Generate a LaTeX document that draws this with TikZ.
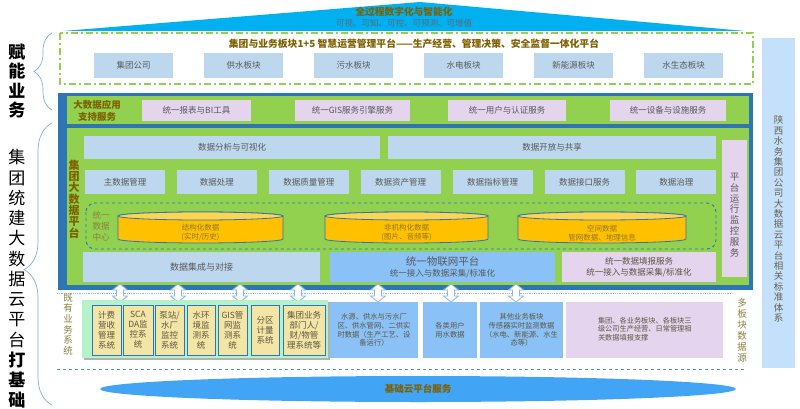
\documentclass[tikz,border=0pt]{standalone}
\usepackage{fontspec}
\setmainfont{Noto Sans CJK SC}
\usetikzlibrary{decorations.pathreplacing}
\definecolor{triblue}{HTML}{00B0F0}
\definecolor{gold}{HTML}{7F6000}
\definecolor{gtext}{HTML}{595959}
\definecolor{subt}{HTML}{5A6A7A}
\definecolor{lblue}{HTML}{BDD7EE}
\definecolor{pinkb}{HTML}{E4D4EE}
\definecolor{gr}{HTML}{92D050}
\definecolor{fblue}{HTML}{2E75B6}
\definecolor{iot}{HTML}{8AC2F7}
\definecolor{mint}{HTML}{B5F2C9}
\definecolor{tanc}{HTML}{F2E5A6}
\definecolor{cyl}{HTML}{FFC000}
\definecolor{cyltop}{HTML}{FFD54F}
\definecolor{ellc}{HTML}{42A4F5}
\definecolor{rpanel}{HTML}{C5E0FA}
\definecolor{olive}{HTML}{8A8040}
\definecolor{bracec}{HTML}{7AAEE0}
\definecolor{arrowc}{HTML}{8DB8E2}
\definecolor{btext}{HTML}{5F5540}
\newcommand\drawcyl[2]{%
  \path[fill=cyl, draw=fblue, line width=0.8] (#1-#2,216) -- (#1-#2,239)
    arc[start angle=180, end angle=0, x radius=#2, y radius=4] -- (#1+#2,216)
    arc[start angle=0, end angle=-180, x radius=#2, y radius=4] -- cycle;
  \draw[fblue, line width=0.8, fill=cyltop] (#1,216) ellipse [x radius=#2, y radius=4];
}
\begin{document}
\begin{tikzpicture}[x=1pt,y=-1pt,
  every node/.style={inner sep=0pt, outer sep=0pt},
  lbbox/.style={fill=lblue, text=gtext, font=\fontsize{8.5}{10}\selectfont, align=center},
  pkbox/.style={fill=pinkb, text=gtext, font=\fontsize{8.5}{10}\selectfont, align=center},
  tanbox/.style={fill=tanc, draw=fblue, line width=0.7, text=btext, font=\fontsize{8.5}{10}\selectfont, align=center, minimum height=50},
  databox/.style={fill=iot, text=btext, font=\fontsize{7.3}{8.7}\selectfont, align=center, minimum height=56},
  vlabel/.style={text=olive, align=center},
  bigvl/.style={text=black, align=center},
  bracestyle/.style={bracec, line width=0.7, decorate},
]
\useasboundingbox (0,0) rectangle (800,409);

% top wedge
\fill[triblue] (63,31) -- (420,2) -- (745,31) -- cycle;
\node[font=\bfseries\fontsize{9.7}{10}\selectfont, text=gold] (t1) at (404,12) {全过程数字化与智能化};
\node[font=\fontsize{8.5}{9}\selectfont, text=subt] (t2) at (404,23) {可视、可知、可控、可预测、可增值};

% business platform
\draw[gr, line width=1.8pt, dash pattern=on 7pt off 3pt on 2pt off 3pt] (60,33) rectangle (753,84);
\node[font=\bfseries\fontsize{9.8}{10}\selectfont, text=gold] (pt) at (414,44) {集团与业务板块1+5 智慧运营管理平台——生产经营、管理决策、安全监督一体化平台};
\foreach \i/\t in {0/集团公司,1/供水板块,2/污水板块,3/水电板块,4/新能源板块,5/水生态板块}{
  \node[lbbox, minimum width=79, minimum height=25] (s\i) at (133.5+110*\i,65.5) {\t};
}

% left labels and braces
\node[bigvl, font=\bfseries\fontsize{17}{19.5}\selectfont] (fn) at (17,81) {赋\\能\\业\\务};
\node[bigvl, font=\fontsize{17}{20.25}\selectfont] (jt) at (17,279) {集\\团\\统\\建\\大\\数\\据\\云\\平\\台\\{\bfseries 打}\\{\bfseries 基}\\{\bfseries 础}};
\draw[bracestyle, decoration={brace, amplitude=18pt}] (52,110) -- (52,33);
\draw[bracestyle, decoration={brace, amplitude=28pt, aspect=0.48}] (52,405) -- (52,123);

% big data frame
\fill[fblue] (58,93) rectangle (753,290);
\fill[gr] (67,96) rectangle (749,124);
\fill[gr] (67,128) rectangle (749,285);

\node[font=\bfseries\fontsize{9.5}{12}\selectfont, text=gold, align=center] (ds) at (97,111) {大数据应用\\支持服务};
\node[pkbox, minimum width=109, minimum height=21] (p1) at (196.5,110.5) {统一报表与BI工具};
\node[pkbox, minimum width=115, minimum height=21] (p2) at (352.5,110.5) {统一GIS服务引擎服务};
\node[pkbox, minimum width=118, minimum height=21] (p3) at (507,110.5) {统一用户与认证服务};
\node[pkbox, minimum width=116, minimum height=21] (p4) at (668,110.5) {统一设备与设施服务};

\node[font=\bfseries\fontsize{11}{11.3}\selectfont, text=gold, align=center] (bdp) at (74,199) {集\\团\\大\\数\\据\\平\\台};

\node[lbbox, minimum width=296, minimum height=23] (r1a) at (232,147.5) {数据分析与可视化};
\node[lbbox, minimum width=328, minimum height=23] (r1b) at (552,147.5) {数据开放与共享};
\node[pkbox, minimum width=25, minimum height=137] (mon) at (734.5,208.5) {};
\node[text=gtext, font=\fontsize{9.5}{10.8}\selectfont, align=center] (monl) at (734.5,215) {平\\台\\运\\行\\监\\控\\服\\务};

\foreach \i/\t in {0/主数据管理,1/数据处理,2/数据质量管理,3/数据资产管理,4/数据指标管理,5/数据接口服务,6/数据治理}{
  \node[lbbox, minimum width=80, minimum height=24] (m\i) at (125+91.9*\i,182) {\t};
}

\draw[fblue, dashed, line width=0.9, rounded corners=9] (86,203) rectangle (716,249);
\node[vlabel, font=\fontsize{8.5}{11}\selectfont] (dc) at (101,226) {统一\\数据\\中心};

\drawcyl{200.5}{82.5}
\drawcyl{406.5}{81.5}
\drawcyl{602}{84}
\node[text=gold!85!white, font=\fontsize{7.5}{9}\selectfont, align=center] (c1) at (200.5,233) {结构化数据\\(实时/历史)};
\node[text=gold!85!white, font=\fontsize{7.5}{9}\selectfont, align=center] (c2) at (406.5,233) {非机构化数据\\(图片、音频等)};
\node[text=gold!85!white, font=\fontsize{7.5}{9}\selectfont, align=center] (c3) at (602,233) {空间数据\\管网数据、地理信息};

\node[lbbox, font=\fontsize{9}{10}\selectfont, minimum width=237, minimum height=30] (b1) at (201.5,267) {数据集成与对接};
\node[fill=iot, minimum width=225, minimum height=30] (b2) at (442.5,267) {};
\node[text=gtext, font=\fontsize{10.5}{12}\selectfont] (b2a) at (442.5,261.5) {统一物联网平台};
\node[text=gtext, font=\fontsize{8.5}{10}\selectfont] (b2b) at (442.5,274) {统一接入与数据采集/标准化};
\node[pkbox, text=btext, minimum width=154, minimum height=30, font=\fontsize{8.5}{11}\selectfont] (b3) at (639,267) {统一数据填报服务\\统一接入与数据采集/标准化};

% dotted separator and arrows
\draw[arrowc, densely dotted, line width=0.8] (57,293) -- (732,293);
\foreach \ax in {120,178,240,298,378,451,516}{
  \draw[arrowc, fill=white, line width=0.8] (\ax,284) -- ++(7.5,6) -- ++(-4,0) -- ++(0,6) -- ++(4,0) -- (\ax,302) -- ++(-7.5,-6) -- ++(4,0) -- ++(0,-6) -- ++(-4,0) -- cycle;
}

% existing systems
\node[vlabel, font=\fontsize{9.5}{10.6}\selectfont] (jy) at (68,324.5) {既\\有\\业\\务\\系\\统};
\fill[black!30] (84,302) rectangle (330,360);
\node[fill=mint, minimum width=246, minimum height=58, anchor=north west] (mb) at (82,300) {};
\node[tanbox, minimum width=29] (e1) at (106.5,330) {计费\\营收\\管理\\系统};
\node[tanbox, minimum width=30] (e2) at (138,330) {SCA\\DA监\\控系\\统};
\node[tanbox, minimum width=29] (e3) at (169.5,330) {泵站/\\水厂\\监控\\系统};
\node[tanbox, minimum width=28] (e4) at (201,330) {水环\\境监\\测系\\统};
\node[tanbox, minimum width=29] (e5) at (232.5,330) {GIS管\\网监\\测系\\统};
\node[tanbox, minimum width=28] (e6) at (265,330) {分区\\计量\\系统};
\node[tanbox, minimum width=42] (e7) at (304,330) {集团业务\\部门人/\\财/物管\\理系统等};

\node[databox, minimum width=88] (d1) at (374,330) {水源、供水与污水厂\\区、供水管网、二供实\\时数据（生产工艺、设\\备运行）};
\node[databox, minimum width=54] (d2) at (450,330) {各类用户\\用水数据};
\node[databox, minimum width=83] (d3) at (521.5,330) {其他业务板块\\传感器实时监测数据\\（水电、新能源、水生\\态等）};
\node[fill=pinkb, minimum width=157, minimum height=56] (d4) at (644.5,330) {};
\node[text=btext, font=\fontsize{7.2}{8.5}\selectfont, align=left, anchor=west] (d4t) at (598,329) {集团、各业务板块、各板块三\\级公司生产经营、日常管理相\\关数据填报支撑};

\node[vlabel, font=\fontsize{9.5}{11}\selectfont] (dy) at (742,330.5) {多\\板\\块\\数\\据\\源};

% right panel
\node[fill=rpanel, minimum width=33, minimum height=330] (rp) at (778.5,203) {};
\node[text=gtext!80!olive, font=\fontsize{9.5}{10.4}\selectfont, align=center] (rpt) at (778.5,219) {陕\\西\\水\\务\\集\\团\\公\\司\\大\\数\\据\\云\\平\\台\\相\\关\\标\\准\\体\\系};

% base
\draw[fblue!80, dashed, line width=0.9] (57,369) -- (745,369);
\fill[ellc] (418,389) ellipse [x radius=318, y radius=13];
\node[font=\bfseries\fontsize{9.5}{10}\selectfont, text=gold] (base) at (418,389) {基础云平台服务};
\end{tikzpicture}
\end{document}
